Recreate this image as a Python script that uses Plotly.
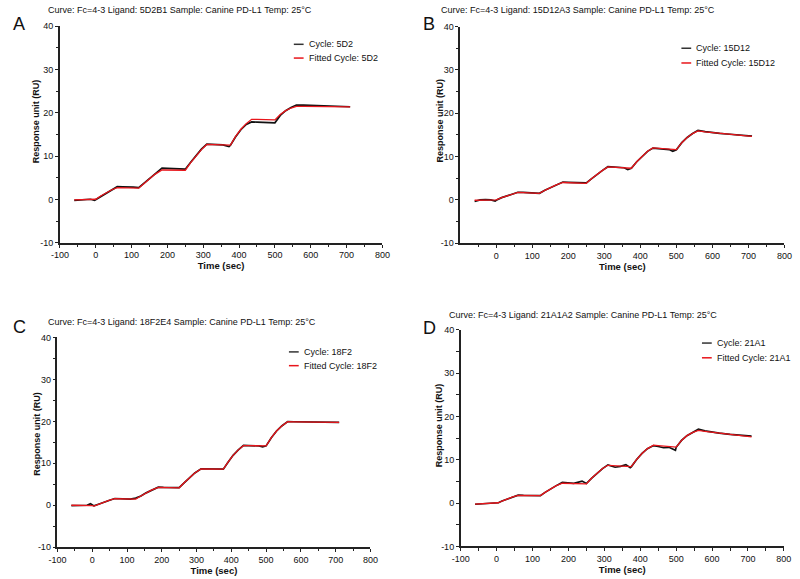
import plotly.graph_objects as go

# ---------------- data ----------------
titles = [
    "Curve: Fc=4-3 Ligand: 5D2B1 Sample: Canine PD-L1 Temp: 25°C",
    "Curve: Fc=4-3 Ligand: 15D12A3 Sample: Canine PD-L1 Temp: 25°C",
    "Curve: Fc=4-3 Ligand: 18F2E4 Sample: Canine PD-L1 Temp: 25°C",
    "Curve: Fc=4-3 Ligand: 21A1A2 Sample: Canine PD-L1 Temp: 25°C",
]
panel_letters = ["A", "B", "C", "D"]
cycle_names = ["5D2", "15D12", "18F2", "21A1"]
x_title = "Time (sec)"
y_title = "Response unit (RU)"

x_ticks_full = [-100, 0, 100, 200, 300, 400, 500, 600, 700, 800]
x_ticks_b = [0, 100, 200, 300, 400, 500, 600, 700, 800]
y_ticks = [-10, 0, 10, 20, 30, 40]

# Panel A
t_A = [-60, -45, -30, -15, -3, 0, 15, 30, 45, 60, 75, 90, 105, 120, 135, 150, 165, 185,
       200, 215, 230, 250, 265, 280, 295, 310, 325, 340, 355, 372, 376, 390, 405, 420, 435,
       450, 465, 480, 500, 515, 530, 545, 560, 580, 600, 620, 640, 660, 680, 710]
raw_A = [-0.2, -0.1, 0.0, 0.05, -0.2, -0.05, 0.8, 1.6, 2.3, 2.95, 2.9, 2.95, 2.85, 2.75, 3.8, 4.9, 5.9, 7.25,
         7.2, 7.15, 7.1, 7.0, 8.6, 10.2, 11.6, 12.75, 12.7, 12.65, 12.6, 12.2, 12.5, 14.4, 16.1, 17.3, 17.9,
         17.85, 17.8, 17.75, 17.7, 19.4, 20.5, 21.2, 21.8, 21.75, 21.7, 21.65, 21.6, 21.55, 21.5, 21.4]
fit_A = [-0.1, -0.05, 0.0, 0.05, 0.05, 0.05, 0.85, 1.6, 2.25, 2.75, 2.7, 2.68, 2.65, 2.62, 3.7, 4.8, 5.8, 6.8,
         6.8, 6.78, 6.77, 6.75, 8.5, 10.1, 11.5, 12.7, 12.67, 12.63, 12.6, 12.56, 12.55, 14.5, 16.2, 17.5, 18.5,
         18.47, 18.43, 18.4, 18.35, 19.6, 20.5, 21.1, 21.5, 21.48, 21.46, 21.44, 21.42, 21.4, 21.38, 21.35]

# Panel B
t_B = [-60, -45, -30, -15, -3, 0, 15, 30, 45, 60, 75, 90, 105, 120, 135, 150, 165, 185,
       200, 215, 230, 250, 265, 280, 295, 310, 325, 340, 355, 365, 375, 390, 405, 420, 435,
       450, 465, 480, 490, 500, 515, 530, 545, 560, 580, 600, 620, 640, 660, 680, 710]
raw_B = [-0.4, 0.0, 0.05, 0.0, -0.3, -0.1, 0.5, 0.95, 1.35, 1.75, 1.7, 1.65, 1.6, 1.5, 2.2, 2.8, 3.4, 4.1,
         4.05, 4.0, 3.95, 3.9, 4.9, 5.9, 6.8, 7.65, 7.6, 7.5, 7.4, 7.0, 7.3, 8.8, 10.1, 11.2, 11.95,
         11.85, 11.75, 11.6, 11.2, 11.55, 13.2, 14.4, 15.3, 16.05, 15.75, 15.5, 15.35, 15.2, 15.05, 14.9, 14.7]
fit_B = [-0.1, -0.05, 0.0, 0.0, 0.0, 0.0, 0.5, 0.95, 1.35, 1.7, 1.65, 1.6, 1.55, 1.5, 2.2, 2.8, 3.4, 4.0,
         3.95, 3.9, 3.85, 3.8, 4.9, 5.9, 6.8, 7.6, 7.5, 7.45, 7.38, 7.33, 7.3, 8.8, 10.1, 11.2, 12.0,
         11.9, 11.8, 11.7, 11.65, 11.6, 13.2, 14.4, 15.3, 15.9, 15.7, 15.5, 15.35, 15.2, 15.05, 14.9, 14.65]

# Panel C
t_C = [-60, -45, -30, -15, -5, 0, 5, 20, 35, 50, 65, 80, 95, 110, 125, 140, 155, 170, 190,
       205, 220, 235, 250, 265, 280, 295, 313, 330, 345, 360, 377, 390, 405, 420, 435,
       450, 465, 480, 490, 500, 515, 530, 545, 562, 580, 600, 620, 640, 660, 680, 710]
raw_C = [-0.1, -0.05, 0.0, 0.0, 0.35, 0.0, -0.15, 0.3, 0.8, 1.2, 1.6, 1.6, 1.5, 1.45, 1.7, 2.2, 2.95, 3.6, 4.3,
         4.25, 4.25, 4.2, 4.2, 5.4, 6.6, 7.7, 8.7, 8.65, 8.6, 8.6, 8.6, 10.2, 11.9, 13.2, 14.25,
         14.2, 14.2, 14.15, 13.9, 14.15, 16.1, 17.7, 18.9, 19.95, 19.9, 19.85, 19.85, 19.8, 19.8, 19.78, 19.75]
fit_C = [0.0, 0.0, 0.0, 0.0, 0.0, -0.1, -0.2, 0.3, 0.8, 1.2, 1.55, 1.53, 1.5, 1.48, 1.45, 2.2, 2.95, 3.6, 4.25,
         4.22, 4.2, 4.18, 4.15, 5.4, 6.6, 7.7, 8.65, 8.64, 8.62, 8.61, 8.6, 10.2, 11.9, 13.2, 14.2,
         14.2, 14.18, 14.17, 14.16, 14.15, 16.1, 17.7, 18.9, 19.9, 19.88, 19.86, 19.84, 19.82, 19.8, 19.78, 19.75]

# Panel D
t_D = [-60, -45, -30, -15, 0, 5, 15, 30, 45, 60, 75, 90, 105, 122, 135, 150, 165, 183,
       200, 215, 238, 250, 265, 280, 295, 310, 330, 345, 360, 372, 375, 390, 405, 420, 437,
       450, 465, 480, 498, 500, 515, 530, 545, 562, 580, 600, 620, 650, 680, 710]
raw_D = [-0.25, -0.2, -0.15, -0.1, 0.0, 0.1, 0.5, 1.0, 1.45, 1.85, 1.8, 1.8, 1.8, 1.75, 2.5, 3.3, 4.0, 4.8,
         4.75, 4.6, 5.1, 4.55, 5.8, 7.0, 8.0, 8.85, 8.3, 8.5, 8.9, 8.2, 8.4, 10.1, 11.5, 12.6, 13.3,
         13.1, 12.8, 12.9, 12.2, 12.9, 14.5, 15.6, 16.4, 17.1, 16.7, 16.4, 16.2, 15.9, 15.7, 15.5]
fit_D = [-0.2, -0.15, -0.1, -0.05, 0.0, 0.1, 0.5, 1.0, 1.45, 1.8, 1.79, 1.78, 1.77, 1.75, 2.5, 3.3, 4.0, 4.6,
         4.57, 4.54, 4.5, 4.45, 5.8, 7.0, 8.0, 8.75, 8.65, 8.6, 8.52, 8.47, 8.45, 10.1, 11.5, 12.6, 13.4,
         13.3, 13.2, 13.1, 12.97, 12.95, 14.5, 15.6, 16.3, 16.8, 16.6, 16.4, 16.2, 15.9, 15.6, 15.3]

times = [t_A, t_B, t_C, t_D]
raws = [raw_A, raw_B, raw_C, raw_D]
fits = [fit_A, fit_B, fit_C, fit_D]

# ---------------- layout geometry (pixels, figure 800x579) ----------------
W, H = 800, 579
# plot boxes: (left, right, top, bottom) in pixels
boxes = [
    (52, 381.5, 21.5, 242),
    (461, 792.3, 22, 242.3),
    (49.5, 369.3, 338.3, 551.7),
    (461.5, 791.7, 330.7, 551),
]
title_pos = [(38, 5), (439, 5), (38, 323), (448, 315)]
letter_pos = [(2, 19), (421, 19), (2, 328), (421, 329)]
legend_pos = [(291, 40, 54), (687, 44, 59), (286, 353, 367), (708, 344, 359)]
ytitle_pos = [(28, 118), (440, 118), (29, 436), (439, 428)]

FONT = "Liberation Sans, Arial, sans-serif"

fig = go.Figure()
layout = dict(
    width=W, height=H,
    margin=dict(l=0, r=0, t=0, b=0),
    paper_bgcolor="white", plot_bgcolor="white",
    showlegend=False,
    font=dict(family=FONT, size=9, color="#111"),
)
annotations = []
shapes = []

for i in range(4):
    l, r, t, b = boxes[i]
    xa = "xaxis" if i == 0 else f"xaxis{i+1}"
    ya = "yaxis" if i == 0 else f"yaxis{i+1}"
    xr = "x" if i == 0 else f"x{i+1}"
    yr = "y" if i == 0 else f"y{i+1}"

    fig.add_trace(go.Scatter(x=times[i], y=raws[i], mode="lines",
                             line=dict(color="#111111", width=1.7),
                             name=f"Cycle: {cycle_names[i]}", xaxis=xr, yaxis=yr))
    fig.add_trace(go.Scatter(x=times[i], y=fits[i], mode="lines",
                             line=dict(color="#e8151b", width=1.3),
                             name=f"Fitted Cycle: {cycle_names[i]}", xaxis=xr, yaxis=yr))

    xticks = x_ticks_b if i == 1 else x_ticks_full
    layout[xa] = dict(
        domain=[l / W, r / W], anchor=yr, range=[-100, 800],
        tickmode="array", tickvals=xticks, ticktext=[str(v) for v in xticks],
        ticks="outside", ticklen=3, tickwidth=1.2, tickcolor="#222",
        showline=True, linecolor="#222", linewidth=1.5,
        showgrid=False, zeroline=False,
        tickfont=dict(size=9, family=FONT, color="#111"),
        minor=dict(tickmode="array", tickvals=[-50, 50, 150, 250, 350, 450, 550, 650, 750],
                   ticks="outside", ticklen=2.5, tickwidth=1, tickcolor="#222", showgrid=False),
        title=dict(text=f"<b>{x_title}</b>", font=dict(size=9.5, family=FONT, color="#111"), standoff=0),
    )
    layout[ya] = dict(
        domain=[1 - b / H, 1 - t / H], anchor=xr, range=[-10, 40],
        tickmode="array", tickvals=y_ticks, ticktext=[str(v) for v in y_ticks],
        ticks="outside", ticklen=3, tickwidth=1.2, tickcolor="#222",
        showline=True, linecolor="#222", linewidth=1.5,
        showgrid=False, zeroline=False,
        tickfont=dict(size=9, family=FONT, color="#111"),
        minor=dict(tickmode="array", tickvals=[-5, 5, 15, 25, 35],
                   ticks="outside", ticklen=2.5, tickwidth=1, tickcolor="#222", showgrid=False),
    )

    yx, yy = ytitle_pos[i]
    annotations.append(dict(text=f"<b>{y_title}</b>", xref="paper", yref="paper",
                            x=yx / W, y=1 - yy / H, xanchor="center", yanchor="middle",
                            textangle=-90, showarrow=False,
                            font=dict(size=9, family=FONT, color="#111")))
    tx, ty = title_pos[i]
    annotations.append(dict(text=titles[i], xref="paper", yref="paper",
                            x=tx / W, y=1 - ty / H, xanchor="left", yanchor="middle",
                            showarrow=False, font=dict(size=9, family=FONT, color="#111")))
    lx, ly = letter_pos[i]
    annotations.append(dict(text=panel_letters[i], xref="paper", yref="paper",
                            x=lx / W, y=1 - ly / H, xanchor="left", yanchor="middle",
                            showarrow=False, font=dict(size=18, family=FONT, color="#111")))
    gx, gy1, gy2 = legend_pos[i]
    for gy, col, txt in [(gy1, "#333333", f"Cycle: {cycle_names[i]}"),
                         (gy2, "#e8151b", f"Fitted Cycle: {cycle_names[i]}")]:
        shapes.append(dict(type="line", xref="paper", yref="paper",
                           x0=gx / W, x1=(gx + 10) / W, y0=1 - gy / H, y1=1 - gy / H,
                           line=dict(color=col, width=1.5)))
        annotations.append(dict(text=txt, xref="paper", yref="paper",
                                x=(gx + 13) / W, y=1 - gy / H, xanchor="left", yanchor="middle",
                                showarrow=False, font=dict(size=9, family=FONT, color="#111")))

layout["annotations"] = annotations
layout["shapes"] = shapes
fig.update_layout(**layout)
fig.write_html("out.html")
